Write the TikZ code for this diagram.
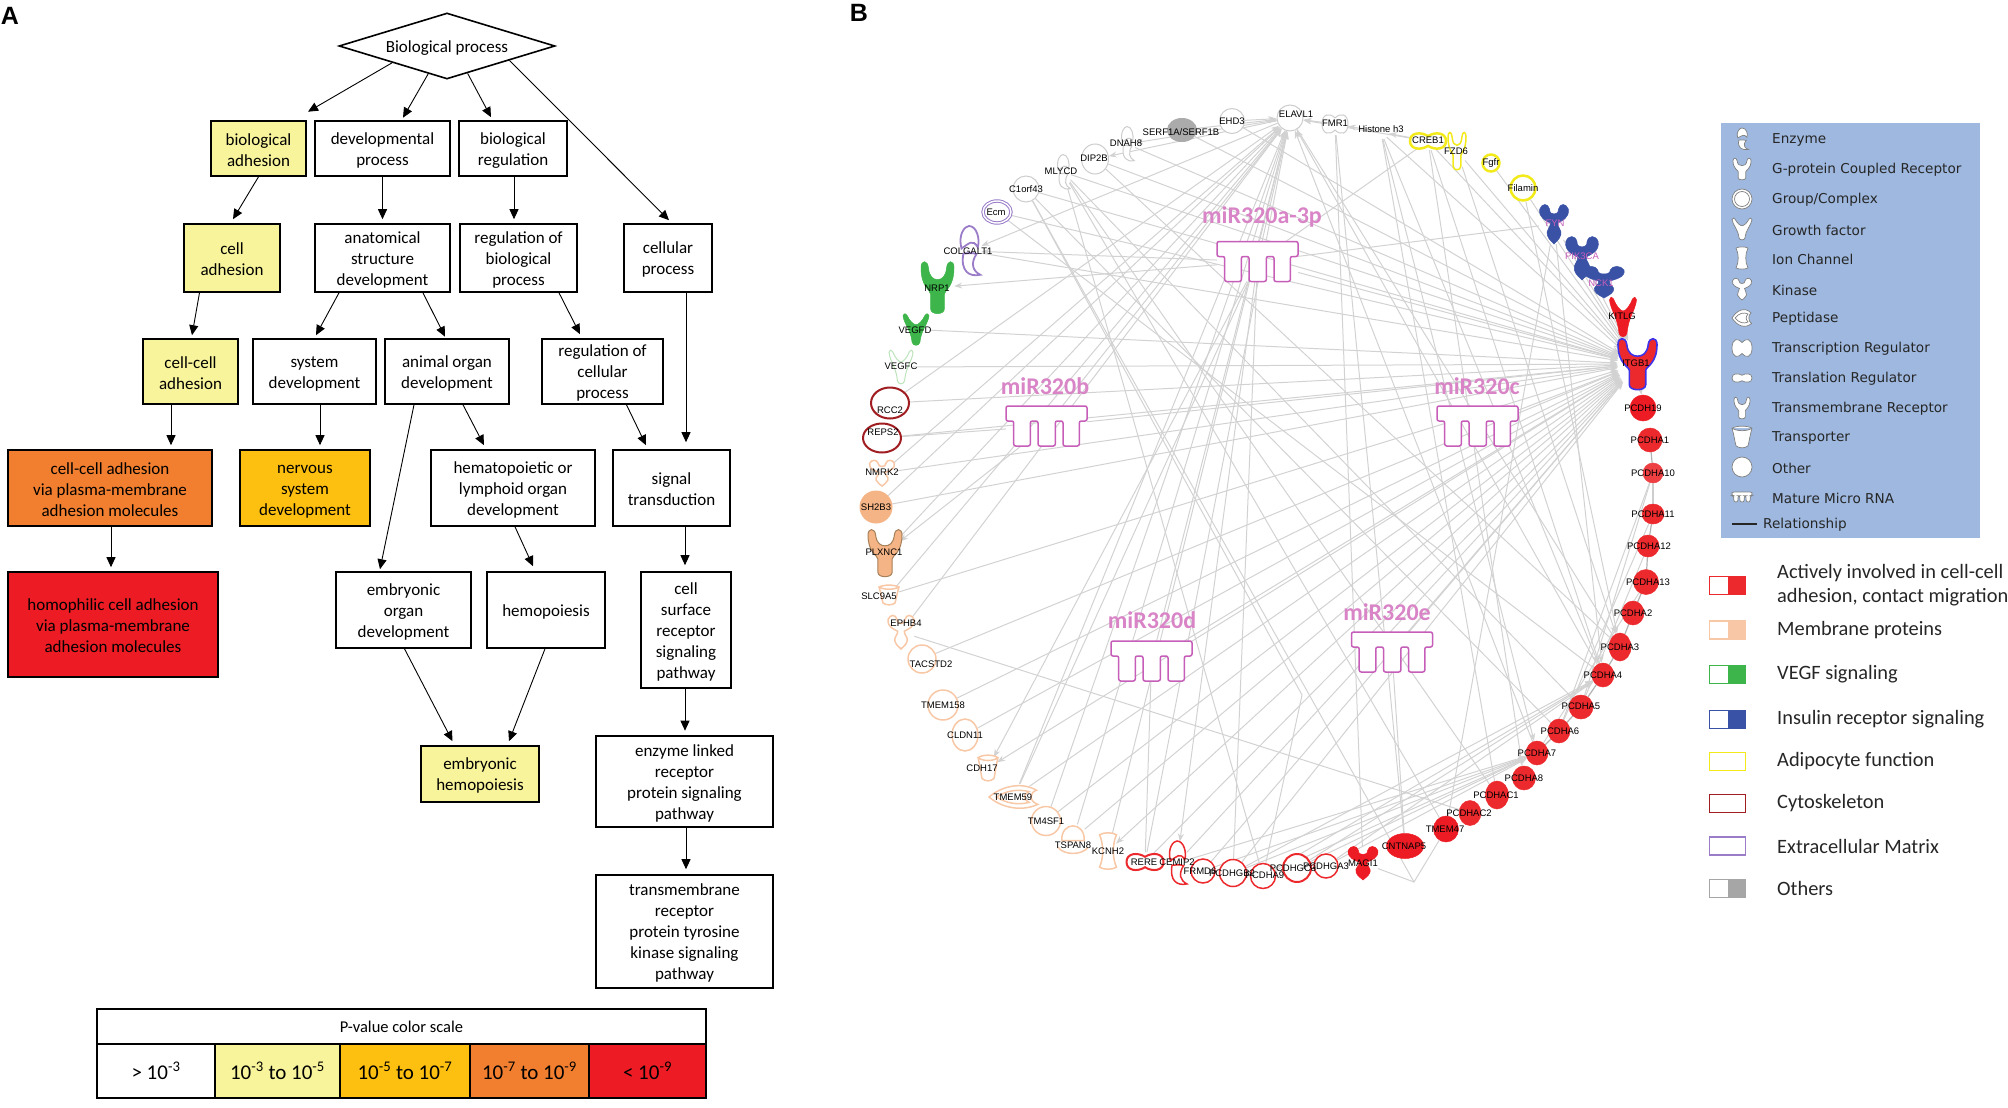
\documentclass[tikz,border=0pt]{standalone}
\usepackage{fontspec}
\setmainfont{Carlito}
\newfontfamily\genefont{Liberation Sans}
\newfontfamily\legfont{DejaVu Sans}
\usetikzlibrary{shapes.geometric,arrows.meta,backgrounds}
\definecolor{pyellow}{HTML}{F8F49B}
\definecolor{pamber}{HTML}{FDBF10}
\definecolor{porange}{HTML}{F17F2F}
\definecolor{pred}{HTML}{ED1C24}
\definecolor{genered}{HTML}{EC2A2E}
\definecolor{gorange}{HTML}{F5B485}
\definecolor{outorange}{HTML}{F8C8A6}
\definecolor{ggreen}{HTML}{3DB54A}
\definecolor{lgreen}{HTML}{BCE4BA}
\definecolor{gblue}{HTML}{3A52A6}
\definecolor{gyellow}{HTML}{F3EA1C}
\definecolor{dkred}{HTML}{A01D22}
\definecolor{gpurple}{HTML}{9A7CC9}
\definecolor{ringgray}{HTML}{CDCDCD}
\definecolor{edgegray}{HTML}{D2D2D2}
\definecolor{mirpink}{HTML}{C65DB8}
\definecolor{mirtext}{HTML}{D884C6}
\definecolor{legblue}{HTML}{9EB8DF}
\tikzset{
  pics/yrecept/.style={code={\path[pic actions] (-.42,.8) -- (-.42,.25) .. controls (-.42,.1) and (-1,0) .. (-1,-.75) .. controls (-1,-1.05) and (-.6,-1.05) .. (-.55,-.75) .. controls (-.5,-.4) and (-.25,-.3) .. (0,-.3) .. controls (.25,-.3) and (.5,-.4) .. (.55,-.75) .. controls (.6,-1.05) and (1,-1.05) .. (1,-.75) .. controls (1,0) and (.42,.1) .. (.42,.25) -- (.42,.8) .. controls (.42,1.05) and (-.42,1.05) .. (-.42,.8) -- cycle;}},
  pics/growth/.style={code={\path[pic actions] (-1,-.85) .. controls (-.9,-1.05) and (-.8,-1) .. (-.7,-.9) .. controls (-.5,-.55) and (-.2,-.3) .. (0,-.3) .. controls (.2,-.3) and (.5,-.55) .. (.7,-.9) .. controls (.8,-1) and (.9,-1.05) .. (1,-.85) .. controls (.9,-.3) and (.4,0) .. (.3,.8) .. controls (.25,1.05) and (-.25,1.05) .. (-.3,.8) .. controls (-.4,0) and (-.9,-.3) .. (-1,-.85) -- cycle;}},
  pics/kinase/.style={code={\path[pic actions] (-.95,-.75) .. controls (-.8,-1.05) and (-.4,-1.05) .. (-.3,-.75) .. controls (-.3,-.55) and (-.15,-.5) .. (0,-.5) .. controls (.15,-.5) and (.3,-.55) .. (.3,-.75) .. controls (.4,-1.05) and (.8,-1.05) .. (.95,-.75) .. controls (1.05,-.3) and (.5,-.15) .. (.25,-.05) .. controls (.2,.15) and (.55,.3) .. (.45,.55) .. controls (.35,.8) and (.1,.9) .. (0,1) .. controls (-.1,.9) and (-.35,.8) .. (-.45,.55) .. controls (-.55,.3) and (-.2,.15) .. (-.25,-.05) .. controls (-.5,-.15) and (-1.05,-.3) .. (-.95,-.75) -- cycle;}},
  pics/enzyme/.style={code={\path[pic actions] (-.6,-.1) .. controls (-.9,-.7) and (-.3,-1) .. (0,-1) .. controls (.6,-1) and (.9,-.5) .. (.7,-.15) .. controls (.3,-.5) and (0,-.3) .. (-.6,-.1) -- cycle (-.45,.1) .. controls (-.7,.8) and (0,1.05) .. (.9,.95) .. controls (.3,.8) and (.1,.5) .. (.6,.12) .. controls (.2,.05) and (-.1,.1) .. (-.45,.1) -- cycle;}},
  pics/leaf/.style={code={\path[pic actions] (-1,0) .. controls (-.5,-.8) and (.3,-1.15) .. (.9,-.5) .. controls (.6,-.3) and (.6,.3) .. (.95,.55) .. controls (.3,1.1) and (-.5,.8) .. (-1,0) -- cycle (-.7,0) .. controls (-.3,-.5) and (.2,-.6) .. (.6,-.4) .. controls (.35,-.1) and (.35,.1) .. (.6,.4) .. controls (.2,.6) and (-.3,.5) .. (-.7,0) -- cycle;}},
  pics/cup/.style={code={\path[pic actions] (-1,-.8) .. controls (-.5,-1.05) and (.5,-1.05) .. (1,-.8) .. controls (.8,-.2) and (.7,.5) .. (.6,.8) .. controls (.3,1.05) and (-.3,1.05) .. (-.6,.8) .. controls (-.7,.5) and (-.8,-.2) .. (-1,-.8) -- cycle (-1,-.8) .. controls (-.5,-.5) and (.5,-.5) .. (1,-.8);}},
  pics/ionch/.style={code={\path[pic actions] (-1,-.9) .. controls (-.5,-1.05) and (.5,-1.05) .. (1,-.9) .. controls (.5,-.4) and (.5,.4) .. (1,.9) .. controls (.5,1.05) and (-.5,1.05) .. (-1,.9) .. controls (-.5,.4) and (-.5,-.4) .. (-1,-.9) -- cycle;}},
  pics/peanut/.style={code={\path[pic actions] (-1,0) .. controls (-1,-.95) and (-.4,-1.05) .. (0,-.55) .. controls (.4,-1.05) and (1,-.95) .. (1,0) .. controls (1,.95) and (.4,1.05) .. (0,.55) .. controls (-.4,1.05) and (-1,.95) .. (-1,0) -- cycle;}},
  pics/dome/.style={code={\path[pic actions] (-.75,.1) .. controls (-.8,-1.2) and (.8,-1.2) .. (.75,.1) -- cycle (-1,.55) .. controls (-.6,1.1) and (.6,1.1) .. (1,.55);}},
  pics/groupring/.style={code={\path[pic actions] (0,0) circle [radius=1] (0,0) circle [radius=.75];}},
  pics/disc/.style={code={\path[pic actions] (0,0) circle [radius=1];}},
  pics/comb/.style={code={\path[pic actions,rounded corners=2pt] (-40.5,-20) -- (40.5,-20) -- (40.5,-5) -- (32.8,-5) -- (32.8,20) -- (16.5,20) -- (16.5,-5) -- (8.8,-5) -- (8.8,20) -- (-8.5,20) -- (-8.5,-5) -- (-16.2,-5) -- (-16.2,20) -- (-32.8,20) -- (-32.8,-5) -- (-40.5,-5) -- cycle;}},
  gobox/.style={draw=black,line width=1.6,align=center,inner sep=0,font=\fontsize{17}{21}\selectfont},
  goarrow/.style={line width=.9,-{Stealth[length=10pt,width=9pt,inset=0pt]}},
  hub/.style={ellipse,inner sep=0},
  rthin/.style={line width=1},
  rout/.style={line width=1.5},
  rstrong/.style={line width=2},
  ryel/.style={line width=2.5},
  rfill/.style={line width=.5},
  recm/.style={line width=1,double,double distance=1.4},
  genelab/.style={font=\genefont\fontsize{9.5}{10}\selectfont,inner sep=0},
  edgeline/.style={edgegray,line width=1},
  edgetip/.style={edgeline,-{Stealth[length=8pt,width=6pt]}},
  legtext/.style={anchor=west,inner sep=0,text=black!85,font=\legfont\fontsize{13.6}{15}\selectfont},
  keytext/.style={anchor=west,align=left,inner sep=0,text=black!85,font=\fontsize{20.4}{24}\selectfont},
}
\begin{document}
\begin{tikzpicture}[x=1pt,y=-1pt]
\useasboundingbox (0,0) rectangle (2008,1108);
\node[inner sep=0,font=\genefont\bfseries\fontsize{25}{25}\selectfont] (panelA) at (10,16) {A};
\node[inner sep=0,font=\genefont\bfseries\fontsize{25}{25}\selectfont] (panelB) at (859,13) {B};
\node[diamond,aspect=3.27,draw=black,line width=1.6,inner sep=0,minimum width=216,minimum height=66,font=\fontsize{17}{21}\selectfont] (biop) at (447,46) {\rule{0pt}{15pt}Biological process};
\foreach \nm/\x/\y/\w/\h/\c/\txt in {
  bioadh/258.5/148.5/95/55/pyellow/{biological\\adhesion},
  devproc/382.5/148.5/135/55/white/{developmental\\process},
  bioreg/513/148.5/108/55/white/{biological\\regulation},
  celladh/232/258/96/68/pyellow/{cell\\adhesion},
  anat/382.5/258/135/68/white/{anatomical\\structure\\development},
  regbio/518.5/258/117/68/white/{regulation of\\biological\\process},
  cellproc/668/258/88/68/white/{cellular\\process},
  ccadh/190.5/371.5/95/65/pyellow/{cell-cell\\adhesion},
  sysdev/314.5/371.5/123/65/white/{system\\development},
  animal/447/371.5/124/65/white/{animal organ\\development},
  regcell/602.5/371.5/121/65/white/{regulation of\\cellular\\process},
  ccvia/110/488/204/76/porange/{cell-cell adhesion\\via plasma-membrane\\adhesion molecules},
  nervous/305/488/130/76/pamber/{nervous\\system\\development},
  hemato/513/488/164/76/white/{hematopoietic or\\lymphoid organ\\development},
  signal/671.5/488/117/76/white/{signal\\transduction},
  homoph/113/624.5/210/105/pred/{homophilic cell adhesion\\via plasma-membrane\\adhesion molecules},
  emborg/403.5/610/135/76/white/{embryonic\\organ\\development},
  hemop/546/610/118/76/white/{hemopoiesis},
  cellsurf/686/630/90/116/white/{cell\\surface\\receptor\\signaling\\pathway},
  embhemo/480/774/118/56/pyellow/{embryonic\\hemopoiesis},
  enzlink/684.5/781.5/177/91/white/{enzyme linked\\receptor\\protein signaling\\pathway},
  transm/684.5/931.5/177/113/white/{transmembrane\\receptor\\protein tyrosine\\kinase signaling\\pathway}}
  \node[gobox,fill=\c,minimum width=\w,minimum height=\h] (\nm) at (\x,\y) {\rule{0pt}{15pt}\txt};
\foreach \a/\da/\b/\db/\gap in {
  biop.-163/0/bioadh/49.5/8.5, biop.-124/0/devproc/20.5/2.5, biop.-53/0/bioreg/-22/3, biop.-13/0/cellproc/1/3,
  bioadh.south/0/celladh/1/4, devproc.south/0/anat/0/4, bioreg.south/1/regbio/-4.5/4,
  celladh.south/-32.5/ccadh/1.5/3, anat.south/-43.5/sysdev/1.5/3, anat.south/40.5/animal/-2/1.5,
  regbio.south/40.5/regcell/-22.5/4, cellproc.south/18/signal/14.5/7, ccadh.south/-19.5/ccvia/61/4,
  sysdev.south/5.5/nervous/15/4, animal.south/16/hemato/-29/4, regcell.south/24/signal/-25.5/4,
  animal.south/-33/emborg/-23.5/2, hemato.south/2/hemop/-13/5, signal.south/13.5/cellsurf/-1/6,
  ccvia.south/1/homoph/-2/4, emborg.south/1/embhemo/-27.5/4, hemop.south/-1/embhemo/29/4,
  cellsurf.south/-1/enzlink/.5/4.5, enzlink.south/1.5/transm/1.5/5}
  \draw[goarrow] ([xshift=\da]\a) -- ([xshift=\db,yshift=\gap]\b.north);
\node[gobox,minimum width=609,minimum height=35,font=\fontsize{16.5}{20}\selectfont] (scalehead) at (401.5,1026.5) {P-value color scale};
\foreach \nm/\x/\w/\c/\txt in {
  sa/156/118/white/{> 10\textsuperscript{-3}},
  sb/277.5/125/pyellow/{10\textsuperscript{-3} to 10\textsuperscript{-5}},
  sc/405/130/pamber/{10\textsuperscript{-5} to 10\textsuperscript{-7}},
  sd/529.5/119/porange/{10\textsuperscript{-7} to 10\textsuperscript{-9}},
  se/647.5/117/pred/{< 10\textsuperscript{-9}}}
  \node[gobox,fill=\c,minimum width=\w,minimum height=54,font=\fontsize{21}{24}\selectfont] (\nm) at (\x,1071) {\txt};
\foreach \nm/\x/\y/\w/\h/\c/\f/\t in {
  EHD3/1232/121/25/25/ringgray/white/rthin,
  SERF/1182/130/29/23/black!33/black!33/rthin,
  DIP2B/1095/159/27/30/ringgray/white/rthin,
  C1orf43/1026/189/26/26/ringgray/white/rthin,
  ELAVL1/1290/118/26/26/ringgray/white/rthin,
  Ecm/997/212/28/22/gpurple/white/recm,
  Filamin/1523/188/25/25/gyellow/white/ryel,
  Fgfr/1491/163/17/17/gyellow/white/ryel,
  RCC2/890/403/38/31/dkred/white/rstrong,
  REPS2/882/438/38/29/dkred/white/rstrong,
  SH2B3/876/507/32/32/gorange/gorange/rthin,
  TACSTD2/922/659/28/28/outorange/white/rout,
  TMEM158/943/705/30/30/outorange/white/rout,
  CLDN11/965/735/26/32/outorange/white/rout,
  TM4SF1/1046/821/29/29/outorange/white/rout,
  FRMD6/1203/871/24/24/genered/white/rout,
  PCDHGB2/1233/873/27/27/genered/white/rout,
  PCDHA9/1263/876/25/25/genered/white/rout,
  PCDHGC3/1297/868/28/28/genered/white/rstrong,
  PCDHGA3/1326/866/24/24/genered/white/rout,
  CNTNAP5/1405/846/37/25/pred/pred/rfill,
  TMEM47/1446/829/25/26/pred/pred/rfill,
  PCDHAC2/1470/813/22/25/genered/genered/rfill,
  PCDHAC1/1497/795/23/28/genered/genered/rfill,
  PCDHA8/1524/778/23/24/genered/genered/rfill,
  PCDHA7/1537/753/22/24/genered/genered/rfill,
  PCDHA6/1559/731/22/24/genered/genered/rfill,
  PCDHA5/1581/707/24/24/genered/genered/rfill,
  PCDHA4/1603/675/22/24/genered/genered/rfill,
  PCDHA3/1620/647/22/28/genered/genered/rfill,
  PCDHA2/1633/613/22/24/genered/genered/rfill,
  PCDHA13/1646/582/25/25/genered/genered/rfill,
  PCDHA12/1648/546/22/22/genered/genered/rfill,
  PCDHA11/1653/514/22/20/genered/genered/rfill,
  PCDHA10/1653/473/20/20/genered!90!white/genered!90!white/rfill,
  PCDHA1/1650/440/24/24/genered/genered/rfill,
  PCDH19/1643/408/26/26/pred/pred/rfill}
  \node[hub,draw=\c,fill=\f,minimum width=\w,minimum height=\h,\t] (\nm) at (\x,\y) {};
\foreach \nm/\x/\y/\sx/\sy/\kind/\c/\f/\lw in {
  DNAH8/1127/144/8/17.5/enzyme/ringgray/white/1,
  MLYCD/1063/172/8/17.5/enzyme/ringgray/white/1,
  COLGALT1/969/251/12.5/25/enzyme/gpurple/white/1.8,
  NRP1/937.5/287.5/16.5/26.5/yrecept/ggreen/ggreen/.5,
  VEGFD/916/329.5/13/16/growth/ggreen/ggreen/.5,
  VEGFC/901/367/12/17/growth/lgreen/white/1,
  NMRK2/882/473/13/13/kinase/outorange/white/1.5,
  PLXNC1/885/553/17/24/yrecept/gray!70!orange/gorange/1,
  SLC9A5/889/595/10/10/cup/outorange/white/1.5,
  EPHB4/901/632/13.5/17/kinase/outorange/white/1.5,
  CDH17/988/768/10/13/cup/outorange/white/1.5,
  TMEM59/1014/797/25/13.5/leaf/outorange/white/1.5,
  TSPAN8/1073/839/15/15/dome/outorange/white/1.5,
  KCNH2/1108/851/8.5/18/ionch/outorange/white/1.5,
  RERE/1145/862/18.5/9.5/peanut/genered/white/2,
  CEMIP2/1177/863/11/22/enzyme/genered/white/1.5,
  MAGI1/1363/863/15.5/17/kinase/pred/pred/.5,
  ITGB1/1637.5/364/19.5/26/yrecept/gpurple!40!blue/genered/1.6,
  KITLG/1623/317/13.5/20/growth/pred/pred/.5,
  NCK1/1604/282/21/16/kinase/gblue/gblue/.5,
  PIK3CA/1582/258/17/22/kinase/gblue/gblue/.5,
  FYN/1554/224/15/20/kinase/gblue/gblue/.5,
  FZD6/1457/151/9/19/yrecept/gyellow/white/1.5,
  CREB1/1428/141/18/9/peanut/gyellow/white/2.5,
  FMR1/1335/124/13/11/peanut/ringgray/white/1}{
  \node[hub,minimum width=2*\sx,minimum height=2*\sy] (\nm) at (\x,\y) {};
  \pic[draw=\c,fill=\f,line width=\lw,xscale=\sx,yscale=\sy] at (\x,\y) {\kind};
}
\node[hub,minimum width=16,minimum height=14] (Histone) at (1381,132) {};
\foreach \nm/\x/\y/\lx/\ly/\txt in {
  mira/1257.5/261.5/1262/217/miR320a-3p, mirb/1046.5/426/1045/386/miR320b, mirc/1477.5/426/1477/386/miR320c,
  mird/1151.5/661/1152/620/miR320d, mire/1392/652/1387/612/miR320e}{
  \node[rectangle,inner sep=0,minimum width=81,minimum height=40] (\nm) at (\x,\y) {};
  \pic[draw=mirpink,fill=white,line width=1.5] at (\x,\y) {comb};
  \node[inner sep=0,text=mirtext,font=\bfseries\fontsize{24}{24}\selectfont] (\nm-lab) at (\lx,\ly) {\txt};
}
\foreach \txt/\x/\y/\tc [count=\i] in {
  {SERF1A/SERF1B}/1181/132/black, EHD3/1232/121/black, DNAH8/1126/143/black, DIP2B/1094/158/black,
  MLYCD/1061/171/black, C1orf43/1026/189/black, Ecm/996/212/black, COLGALT1/968/251/black,
  NRP1/937/288/black, VEGFD/915/330/black, VEGFC/901/366/black, RCC2/890/410/black, REPS2/883/432/black,
  NMRK2/882/472/black, SH2B3/876/507/black, PLXNC1/884/552/black, SLC9A5/879/596/black, EPHB4/906/623/black,
  TACSTD2/931/664/black, TMEM158/943/705/black, CLDN11/965/735/black, CDH17/982/768/black, TMEM59/1013/797/black,
  TM4SF1/1046/821/black, TSPAN8/1073/845/black, KCNH2/1108/851/black, RERE/1144/862/black, CEMIP2/1177/862/black,
  FRMD6/1200/871/black, PCDHGB2/1232/873/black, PCDHA9/1265/875/black, PCDHGC3/1293/868/black, PCDHGA3/1326/866/black,
  MAGI1/1363/863/black, CNTNAP5/1404/846/black, TMEM47/1445/829/black, PCDHAC2/1469/813/black, PCDHAC1/1496/795/black,
  PCDHA8/1524/778/black, PCDHA7/1537/753/black, PCDHA6/1560/731/black, PCDHA5/1581/706/black, PCDHA4/1603/675/black,
  PCDHA3/1620/647/black, PCDHA2/1633/613/black, PCDHA13/1648/582/black, PCDHA12/1649/546/black, PCDHA11/1653/514/black,
  PCDHA10/1653/473/black, PCDHA1/1650/440/black, PCDH19/1643/408/black, ITGB1/1636/363/black, KITLG/1622/316/black,
  NCK1/1601/283/mirpink, PIK3CA/1582/256/mirpink, FYN/1555/223/mirpink, Filamin/1523/188/black, Fgfr/1491/163/black,
  FZD6/1456/151/black, CREB1/1428/140/black, {Histone h3}/1381/129/black, FMR1/1335/123/black, ELAVL1/1296/114/black}
  \node[genelab,text=\tc] (lab\i) at (\x,\y) {\txt};
\coordinate (bendA) at (1414,882);
\coordinate (bendB) at (1302,695);
\begin{pgfonlayer}{background}
\foreach \a in {EHD3,SERF,DNAH8,DIP2B,MLYCD,C1orf43,Ecm,COLGALT1,VEGFD,VEGFC,RCC2,REPS2,NMRK2,SH2B3,SLC9A5,TACSTD2,TMEM158,CLDN11,TMEM59,TM4SF1,TSPAN8,RERE,CEMIP2,FRMD6,PCDHGB2,Histone,CREB1,FZD6,Fgfr,Filamin,FYN,PIK3CA,NCK1,mira,mirb,mirc,mird,mire}
  \draw[edgetip] (\a) -- (ITGB1);
\foreach \a in {RCC2,NMRK2,SH2B3,PLXNC1,SLC9A5,EPHB4,TMEM59,TM4SF1,TSPAN8,RERE,KCNH2,PCDHA4,PCDHA7,FMR1,EHD3,SERF,CREB1,mira,mirb,mird}
  \draw[edgetip] (\a) -- (ELAVL1);
\foreach \a/\b in {ITGB1/KCNH2,ITGB1/CDH17,ITGB1/PCDH19,ELAVL1/DNAH8,ELAVL1/DIP2B,ELAVL1/COLGALT1,mira/NRP1,mira/COLGALT1,mira/CDH17,mira/CEMIP2,mirb/PLXNC1,Histone/FMR1,CREB1/Histone,PCDHGB2/PCDHA7,PCDHA9/PCDHA7,PCDHGC3/PCDHA7,PCDHGA3/PCDHA7,FRMD6/PCDHA7,CEMIP2/PCDHA7,PCDHGB2/PCDHA4,PCDHA9/PCDHA4,PCDHGC3/PCDHA4,PCDHGA3/PCDHA4,FYN/PCDHA4,Filamin/PCDHA3,FZD6/PCDHA3,Histone/PCDHA7,Histone/PCDHA4,CREB1/PCDHA4}
  \draw[edgetip] (\a) -- (\b);
\foreach \a/\b in {mira/PCDHGB2,mira/TMEM59,mira/CREB1,mira/FYN,mirb/REPS2,EPHB4/PCDHAC2,FMR1/MAGI1,FMR1/CNTNAP5,Histone/PCDHAC1,CREB1/PCDHA8,FYN/TMEM47,ELAVL1/PCDHA3,MLYCD/TMEM47,MLYCD/PCDHA9,MLYCD/PCDHAC1,MLYCD/PCDHA5,C1orf43/PCDHA6,DIP2B/PCDHA3,Ecm/PCDHA4,PCDHA10/PCDHA5,PCDHA11/PCDHA6,PCDHA10/PCDHA6,PCDHA12/PCDHA5,PCDHA13/PCDHA7,mire/CNTNAP5,mird/RERE}
  \draw[edgeline] (\a) -- (\b);
\draw[edgeline] (C1orf43) -- (bendA) -- (TMEM47);
\draw[edgeline] (bendA) -- (MAGI1);
\draw[edgeline] (C1orf43) -- (bendB) -- (PCDHA9);
\draw[black!30,line width=1.2] (PCDHA7) -- (PCDHA6) -- (PCDHA5) -- (PCDHA4) -- (PCDHA3) -- (PCDHA2) -- (PCDHA13) -- (PCDHA12) -- (PCDHA11) -- (PCDHA10) -- (PCDHA1);
\end{pgfonlayer}
\node[fill=legblue,minimum width=259,minimum height=415,inner sep=0] (legbox) at (1850.5,330.5) {};
\foreach \kind/\y/\sx/\sy/\txt [count=\i] in {
  enzyme/139/7/11/Enzyme, yrecept/169/9/11/G-protein Coupled Receptor, groupring/199/10/10/{Group/Complex},
  growth/229/10/11/Growth factor, ionch/258/6/11/Ion Channel, kinase/289/10/11/Kinase, leaf/318/10/10/Peptidase,
  peanut/348/10/10/Transcription Regulator, peanut/378/10/5/Translation Regulator, yrecept/408/8/11/Transmembrane Receptor,
  cup/437/10/11/Transporter, disc/467/10/10/Other}{
  \pic[draw=black!50,fill=white,line width=.7,xscale=\sx,yscale=\sy] at (1742,\y) {\kind};
  \node[legtext] (leg\i) at (1772,\y+1) {\txt};
}
\pic[draw=black!50,fill=white,line width=.7,scale=.25] at (1742,497) {comb};
\node[legtext] (legmicro) at (1772,498) {Mature Micro RNA};
\node[legtext] (legrel) at (1763,525) {Relationship};
\coordinate (relstart) at (1732,524);
\draw[black!85,line width=1.4] (relstart) -- ([xshift=-6pt,yshift=1pt]legrel.west);
\foreach \nm/\y/\c/\f/\txt in {
  act/585.5/genered/genered/{Actively involved in cell-cell\\adhesion, contact migration},
  mem/630/outorange/outorange/{Membrane proteins},
  veg/674.5/ggreen/ggreen/{VEGF signaling},
  ins/719.5/gblue/gblue/{Insulin receptor signaling},
  adi/761.5/gyellow/white/{Adipocyte function},
  cyt/803.5/dkred/white/{Cytoskeleton},
  ecm/846/gpurple/white/{Extracellular Matrix},
  oth/888.5/black!35/black!35/{Others}}{
  \node[outer sep=0,minimum width=36,minimum height=18,inner sep=0] (sw\nm) at (1727.5,\y) {};
  \fill[\f] (sw\nm.north) rectangle (sw\nm.south east);
  \draw[\c,line width=1.6] (sw\nm.north west) rectangle (sw\nm.south east);
  \node[keytext] (key\nm) at (1777,\y) {\txt};
}
\end{tikzpicture}
\end{document}
